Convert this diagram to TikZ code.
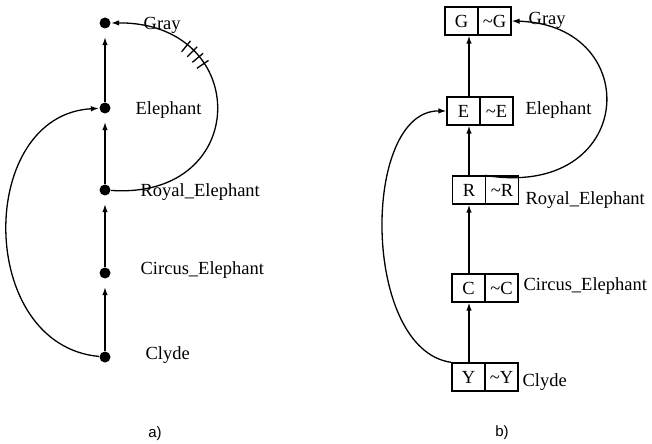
\documentclass[tikz,border=0pt]{standalone}
\usepackage{fontspec}
\setmainfont{Liberation Serif}
\newfontfamily\capfont{Liberation Sans}
\usetikzlibrary{arrows.meta,decorations.markings}

\begin{document}
\begin{tikzpicture}[x=1bp, y=-1bp, line width=1.3bp,
	dot/.style={circle, fill=black, inner sep=0pt, minimum size=11bp},
	lbl/.style={anchor=west, inner sep=0pt, font=\fontsize{18.5bp}{20bp}\selectfont},
	cell/.style={draw, line width=1.3bp, minimum width=33bp, minimum height=28bp, inner sep=0pt, font=\fontsize{18.5bp}{20bp}\selectfont},
	arr/.style={-{Latex[length=8bp,width=5.5bp]}},
	hatch/.style={postaction={decorate}, decoration={markings,
		mark=between positions 0.655 and 0.74 step 0.027 with {\draw[-] (0,-7) -- (0,7);}}}]
	\useasboundingbox (0,0) rectangle (652,444);

	% a) inheritance net
	\node[dot](gray) at (105,23){};
	\node[dot](eleph) at (105,108){};
	\node[dot](royal) at (105,190){};
	\node[dot](circus) at (105,273){};
	\node[dot](clyde) at (105,357){};
	\node[lbl](lgray) at (143,25){Gray};
	\node[lbl](leleph) at (135,110){Elephant};
	\node[lbl](lroyal) at (140,192){Royal\_Elephant};
	\node[lbl](lcircus) at (140,270){Circus\_Elephant};
	\node[lbl](lclyde) at (145,355){Clyde};

	\draw [arr, shorten >=8bp] (eleph) -- (gray);
	\draw [arr, shorten >=8bp] (royal) -- (eleph);
	\draw [arr, shorten >=8bp] (circus) -- (royal);
	\draw [arr, shorten >=8bp] (clyde) -- (circus);
	\draw [arr] (clyde) .. controls (-24,345) and (-24,115) .. (eleph);
	\draw [arr, hatch] (royal) .. controls (252,200) and (252,22) .. (gray);

	% b) split boxes
	\node[cell](gpos) at (461.5,21){G};
	\node[cell](gneg) at (494.5,21){\textasciitilde G};
	\node[cell](epos) at (463.5,111){E};
	\node[cell](eneg) at (496.5,111){\textasciitilde E};
	\node[cell](rpos) at (469,190){R};
	\node[cell](rneg) at (502,190){\textasciitilde R};
	\node[cell](cpos) at (468.5,288){C};
	\node[cell](cneg) at (501.5,288){\textasciitilde C};
	\node[cell](ypos) at (468.5,377){Y};
	\node[cell](yneg) at (501.5,377){\textasciitilde Y};
	\node[lbl](rgray) at (528,20){Gray};
	\node[lbl](releph) at (525,110){Elephant};
	\node[lbl](rroyal) at (525,200){Royal\_Elephant};
	\node[lbl](rcircus) at (523,286){Circus\_Elephant};
	\node[lbl](rclyde) at (522,382){Clyde};

	\draw [arr] (rpos |- epos.north) -- (rpos |- gpos.south);
	\draw [arr] (rpos.north) -- (rpos |- epos.south);
	\draw [arr] (rpos |- cpos.north) -- (rpos.south);
	\draw [arr] (rpos |- ypos.north) -- (rpos |- cpos.south);
	\draw [arr] (rneg.north west) .. controls (636,200) and (646,25) .. (gneg.east);
	\draw [arr] (ypos.north west) .. controls (361,350) and (361,110) .. (epos.west);

	\node[font=\capfont\fontsize{15bp}{17bp}\selectfont](capa) at (155,434){a)};
	\node[font=\capfont\fontsize{15bp}{17bp}\selectfont](capb) at (502,433){b)};
\end{tikzpicture}
\end{document}
